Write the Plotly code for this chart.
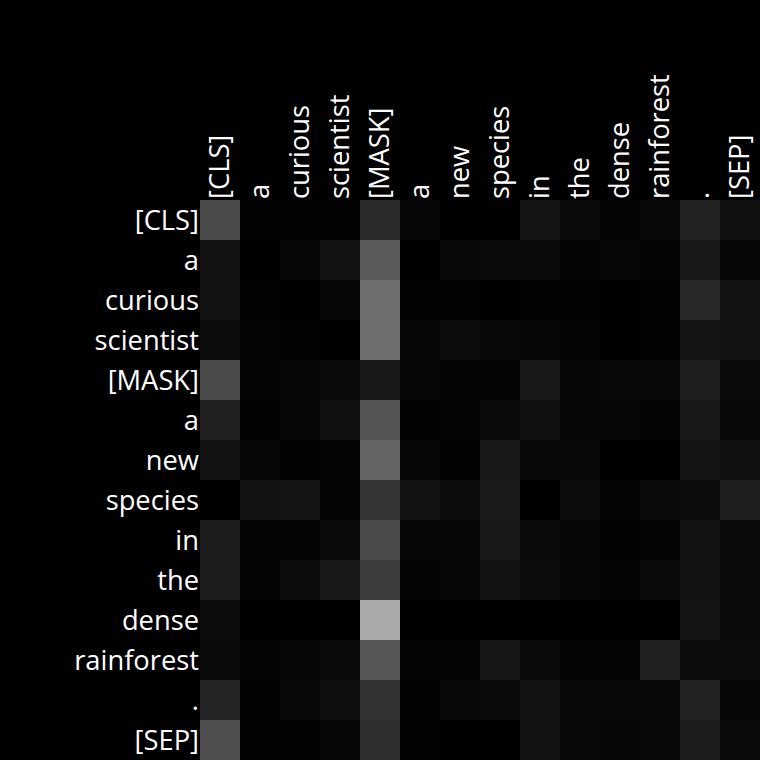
import plotly.graph_objects as go

tokens = ["[CLS]", "a", "curious", "scientist", "[MASK]", "a", "new", "species",
          "in", "the", "dense", "rainforest", ".", "[SEP]"]

# attention intensities (grey level / 255)
row_cls        = [0x4a, 0x02, 0x02, 0x02, 0x2a, 0x06, 0x00, 0x00, 0x14, 0x0a, 0x04, 0x08, 0x22, 0x10]
row_a1         = [0x12, 0x00, 0x07, 0x12, 0x5a, 0x00, 0x08, 0x0b, 0x0b, 0x05, 0x06, 0x05, 0x18, 0x06]
row_curious    = [0x12, 0x02, 0x00, 0x07, 0x6e, 0x02, 0x03, 0x00, 0x03, 0x03, 0x00, 0x03, 0x29, 0x12]
row_scientist  = [0x0c, 0x04, 0x03, 0x00, 0x6e, 0x07, 0x0c, 0x08, 0x06, 0x05, 0x00, 0x03, 0x15, 0x13]
row_mask       = [0x4a, 0x05, 0x07, 0x0a, 0x18, 0x06, 0x05, 0x05, 0x19, 0x07, 0x08, 0x08, 0x1f, 0x0a]
row_a2         = [0x20, 0x02, 0x07, 0x10, 0x55, 0x02, 0x05, 0x0a, 0x10, 0x07, 0x06, 0x04, 0x18, 0x08]
row_new        = [0x13, 0x07, 0x02, 0x04, 0x64, 0x07, 0x02, 0x19, 0x09, 0x08, 0x00, 0x00, 0x15, 0x10]
row_species    = [0x00, 0x13, 0x14, 0x05, 0x35, 0x12, 0x0c, 0x1a, 0x00, 0x0d, 0x04, 0x0b, 0x0c, 0x1e]
row_in         = [0x1c, 0x05, 0x05, 0x0b, 0x4a, 0x07, 0x06, 0x19, 0x0b, 0x06, 0x03, 0x05, 0x12, 0x0b]
row_the        = [0x1c, 0x04, 0x0c, 0x18, 0x3c, 0x05, 0x07, 0x13, 0x0c, 0x06, 0x05, 0x0a, 0x12, 0x0a]
row_dense      = [0x0d, 0x00, 0x00, 0x00, 0xaa, 0x00, 0x00, 0x00, 0x01, 0x00, 0x00, 0x00, 0x15, 0x0a]
row_rainforest = [0x0a, 0x04, 0x07, 0x0b, 0x57, 0x04, 0x05, 0x16, 0x0a, 0x05, 0x04, 0x20, 0x0d, 0x0c]
row_period     = [0x25, 0x03, 0x08, 0x0e, 0x32, 0x03, 0x08, 0x0a, 0x13, 0x08, 0x08, 0x09, 0x23, 0x07]
row_sep        = [0x4e, 0x03, 0x02, 0x06, 0x2f, 0x03, 0x01, 0x00, 0x12, 0x08, 0x06, 0x08, 0x1c, 0x0b]

rows = [row_cls, row_a1, row_curious, row_scientist, row_mask, row_a2, row_new,
        row_species, row_in, row_the, row_dense, row_rainforest, row_period, row_sep]
z = [[v / 255 for v in r] for r in rows]

idx = list(range(len(tokens)))

fig = go.Figure(go.Heatmap(
    z=z, x=idx, y=idx,
    colorscale=[[0, "#000000"], [1, "#ffffff"]],
    zmin=0, zmax=1, showscale=False, xgap=0, ygap=0,
))

tick_font = dict(family="Open Sans", size=27.3, color="white")

fig.update_layout(
    width=760, height=760,
    margin=dict(l=200, t=200, r=0, b=0, pad=0),
    paper_bgcolor="black", plot_bgcolor="black",
    font=dict(family="Open Sans", size=27.3, color="white"),
    xaxis=dict(side="top", tickmode="array", tickvals=idx, ticktext=tokens,
               tickangle=-90, showgrid=False, zeroline=False, ticks="",
               tickfont=tick_font, range=[-0.5, 13.5], automargin=False),
    yaxis=dict(tickmode="array", tickvals=idx, ticktext=tokens,
               autorange="reversed", showgrid=False, zeroline=False, ticks="",
               tickfont=tick_font, automargin=False),
)

fig.write_html("out.html")
